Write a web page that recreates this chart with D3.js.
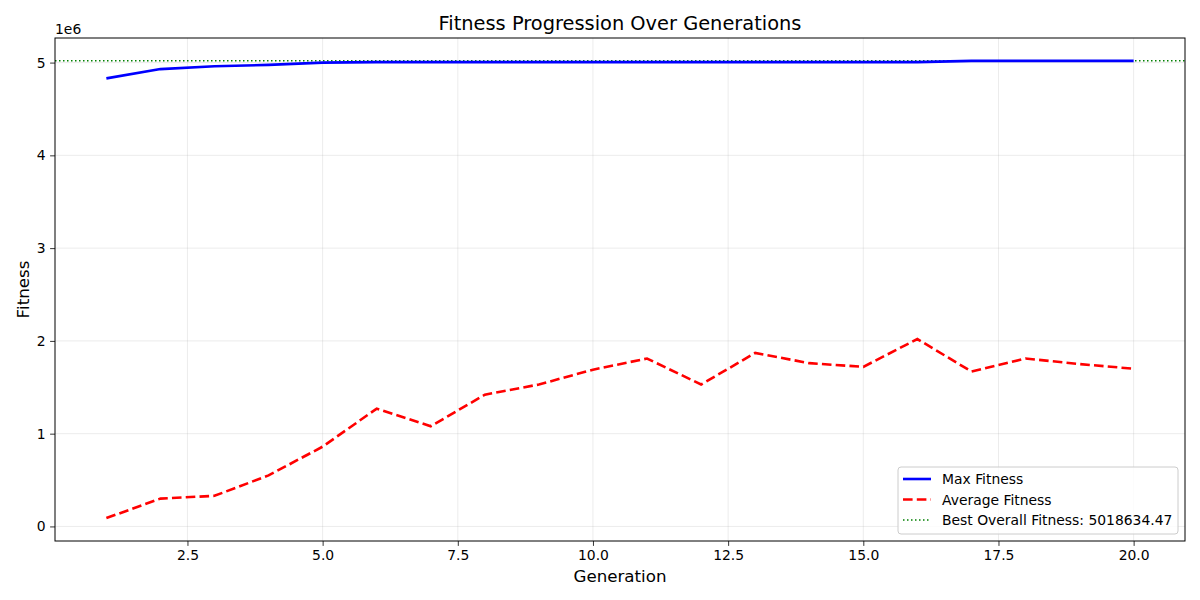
<!DOCTYPE html>
<html>
<head>
<meta charset="utf-8">
<script src="https://cdn.jsdelivr.net/npm/d3@7"></script>
<style>
  body { margin: 0; background: #fff; }
  text { font-family: "DejaVu Sans", sans-serif; fill: #000; }
</style>
</head>
<body>
<svg id="chart" width="1200" height="600"></svg>
<script>
// values (fitness in units of 1e6)
var generations = d3.range(1, 21);
var maxFitness = [4.83, 4.93, 4.96, 4.975, 5.0, 5.005, 5.005, 5.005, 5.005, 5.005,
                  5.005, 5.005, 5.005, 5.005, 5.005, 5.005, 5.0186, 5.0186, 5.0186, 5.0186];
var avgFitness = [0.09, 0.30, 0.33, 0.55, 0.86, 1.27, 1.08, 1.42, 1.53, 1.69,
                  1.81, 1.53, 1.87, 1.76, 1.72, 2.02, 1.67, 1.81, 1.75, 1.70];
var bestOverall = 5018634.47;
var xTicks = [2.5, 5, 7.5, 10, 12.5, 15, 17.5, 20];
var yTicks = [0, 1, 2, 3, 4, 5];

var svg = d3.select("#chart");
var plotL = 55, plotR = 1185, plotT = 38, plotB = 541;

var x = d3.scaleLinear().domain([0.05, 20.95]).range([plotL, plotR]);
var y = d3.scaleLinear().domain([-0.157, 5.265]).range([plotB, plotT]);

// grid
var grid = svg.append("g").attr("stroke", "#b0b0b0").attr("stroke-opacity", 0.3).attr("stroke-width", 0.8);
grid.selectAll(".gx").data(xTicks).enter().append("line")
  .attr("x1", function(d){ return x(d); }).attr("x2", function(d){ return x(d); })
  .attr("y1", plotT).attr("y2", plotB);
grid.selectAll(".gy").data(yTicks).enter().append("line")
  .attr("y1", function(d){ return y(d); }).attr("y2", function(d){ return y(d); })
  .attr("x1", plotL).attr("x2", plotR);

// axes
var xAxis = d3.axisBottom(x).tickValues(xTicks).tickSize(4.9).tickPadding(4.5)
  .tickFormat(d3.format(".1f"));
var yAxis = d3.axisLeft(y).tickValues(yTicks).tickSize(4.9).tickPadding(4.5)
  .tickFormat(d3.format("d"));

var gx = svg.append("g").attr("transform", "translate(0," + plotB + ")").call(xAxis);
var gy = svg.append("g").attr("transform", "translate(" + plotL + ",0)").call(yAxis);
[gx, gy].forEach(function(g){
  g.select(".domain").remove();
  g.selectAll(".tick line").attr("stroke", "#000").attr("stroke-width", 0.8);
  g.selectAll(".tick text").style("font-size", "13.9px").attr("fill", "#000");
});

// lines
var line = function(vals){
  return d3.line().x(function(d, i){ return x(generations[i]); })
    .y(function(d){ return y(d); })(vals);
};

svg.append("line")
  .attr("x1", plotL).attr("x2", plotR)
  .attr("y1", y(bestOverall / 1e6)).attr("y2", y(bestOverall / 1e6))
  .attr("stroke", "#008000").attr("stroke-width", 1.5).attr("stroke-dasharray", "1.5,2.5");

svg.append("path").attr("d", line(maxFitness))
  .attr("fill", "none").attr("stroke", "#0000ff").attr("stroke-width", 2.6);

svg.append("path").attr("d", line(avgFitness))
  .attr("fill", "none").attr("stroke", "#ff0000").attr("stroke-width", 2.6)
  .attr("stroke-dasharray", "9.6,4.2");

// frame
svg.append("rect").attr("x", plotL).attr("y", plotT)
  .attr("width", plotR - plotL).attr("height", plotB - plotT)
  .attr("fill", "none").attr("stroke", "#000").attr("stroke-width", 1);

// texts
svg.append("text").attr("x", (plotL + plotR) / 2).attr("y", 30)
  .attr("text-anchor", "middle").style("font-size", "19.4px")
  .text("Fitness Progression Over Generations");
svg.append("text").attr("x", (plotL + plotR) / 2).attr("y", 582)
  .attr("text-anchor", "middle").style("font-size", "16.7px").text("Generation");
svg.append("text").attr("transform", "translate(29," + ((plotT + plotB) / 2) + ") rotate(-90)")
  .attr("text-anchor", "middle").style("font-size", "16.7px").text("Fitness");
svg.append("text").attr("x", plotL).attr("y", 34).style("font-size", "13.9px").text("1e6");

// legend
var legendItems = [
  { label: "Max Fitness", color: "#0000ff", dash: null, w: 2.6 },
  { label: "Average Fitness", color: "#ff0000", dash: "9.6,4.2", w: 2.6 },
  { label: "Best Overall Fitness: " + bestOverall.toFixed(2), color: "#008000", dash: "1.5,2.5", w: 1.5 }
];
var lg = svg.append("g").attr("transform", "translate(898,467)");
lg.append("rect").attr("width", 280).attr("height", 67).attr("rx", 3)
  .attr("fill", "#fff").attr("fill-opacity", 0.8).attr("stroke", "#cccccc").attr("stroke-width", 1);
var rows = lg.selectAll(".row").data(legendItems).enter().append("g")
  .attr("transform", function(d, i){ return "translate(0," + (12 + i * 20.5) + ")"; });
rows.append("line").attr("x1", 5).attr("x2", 33).attr("y1", 0).attr("y2", 0)
  .attr("stroke", function(d){ return d.color; })
  .attr("stroke-width", function(d){ return d.w; })
  .attr("stroke-dasharray", function(d){ return d.dash; });
rows.append("text").attr("x", 44).attr("y", 5).style("font-size", "13.9px")
  .text(function(d){ return d.label; });
</script>
</body>
</html>
